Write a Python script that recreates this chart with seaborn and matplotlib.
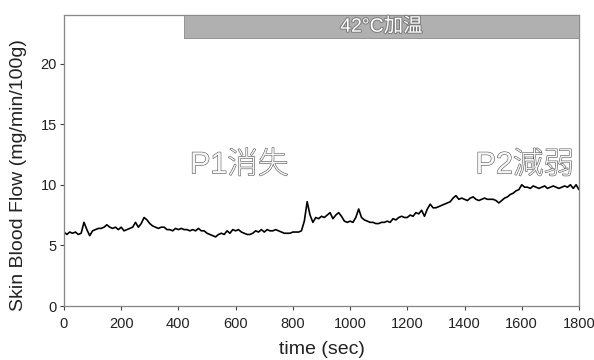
import numpy as np
import pandas as pd
import matplotlib
matplotlib.use("Agg")
import matplotlib.pyplot as plt
import matplotlib.patheffects as pe
import seaborn as sns

# Skin blood flow recorded every 10 s over 30 min
time_sec = list(range(0, 1801, 10))
blood_flow = [
    6.1, 5.9, 6.1, 6.0, 6.1, 5.9, 6.0, 6.9, 6.3, 5.8, 6.2,
    6.3, 6.4, 6.4, 6.5, 6.7, 6.5, 6.4, 6.5, 6.3, 6.5,
    6.2, 6.3, 6.4, 6.5, 6.9, 6.5, 6.8, 7.3, 7.1, 6.8,
    6.6, 6.5, 6.4, 6.5, 6.5, 6.3, 6.3, 6.2, 6.4, 6.3,
    6.4, 6.3, 6.3, 6.2, 6.3, 6.2, 6.4, 6.2, 6.2, 6.0,
    5.9, 5.8, 5.7, 5.9, 6.0, 5.9, 6.2, 6.0, 6.3, 6.2,
    6.3, 6.1, 6.0, 5.9, 5.9, 6.0, 6.2, 6.1, 6.3, 6.1,
    6.3, 6.2, 6.2, 6.3, 6.2, 6.1, 6.0, 6.0, 6.0, 6.1,
    6.1, 6.1, 6.2, 7.0, 8.6, 7.5, 6.9, 7.3, 7.2, 7.4,
    7.3, 7.5, 7.7, 7.2, 7.5, 7.7, 7.4, 7.0, 6.9, 7.0,
    6.9, 7.3, 8.0, 7.3, 7.1, 7.0, 6.9, 6.9, 6.8, 6.8,
    6.9, 6.9, 7.0, 6.9, 7.2, 7.1, 7.3, 7.4, 7.3, 7.3,
    7.5, 7.4, 7.7, 7.6, 7.9, 7.4, 8.0, 8.4, 8.1, 8.1,
    8.2, 8.3, 8.4, 8.5, 8.6, 8.9, 9.1, 8.8, 8.9, 8.8,
    8.7, 8.9, 9.0, 8.8, 8.7, 8.8, 8.9, 8.8, 8.8, 8.8,
    8.7, 8.5, 8.7, 8.9, 9.0, 9.2, 9.3, 9.5, 9.6, 10.0,
    9.8, 9.8, 9.7, 9.9, 9.8, 9.7, 9.8, 9.9, 9.7, 9.8,
    9.9, 9.8, 9.7, 9.8, 9.9, 9.8, 10.0, 9.7, 10.0, 9.6,
]

x_ticks = [0, 200, 400, 600, 800, 1000, 1200, 1400, 1600, 1800]
y_ticks = [0, 5, 10, 15, 20]

# Heating period (42°C) and phase annotations
heat_start, heat_end = 420, 1800
heat_band = (22.1, 24.0)
heat_label = "42°C加温"
phase_labels = ["P1消失", "P2減弱"]
phase_pos = [(612, 11.6), (1610, 11.6)]

sns.set_theme(style="white")
plt.rcParams["font.family"] = ["Liberation Sans", "Noto Sans CJK JP", "DejaVu Sans"]

df = pd.DataFrame({"time": time_sec, "flow": blood_flow})

fig = plt.figure(figsize=(5.94, 3.60), dpi=100)
ax = fig.add_axes([0.1077, 0.15, 0.867, 0.8083])

sns.lineplot(data=df, x="time", y="flow", ax=ax, color="black", linewidth=1.2)

ax.set_xlim(0, 1800)
ax.set_ylim(0, 24)
ax.set_xticks(x_ticks)
ax.set_yticks(y_ticks)
ax.tick_params(axis="both", direction="out", length=3, width=0.8,
               colors="#444444", labelsize=10.5, labelcolor="#222222",
               bottom=True, left=True)
ax.tick_params(axis="x", pad=5)
ax.tick_params(axis="y", pad=2)
for sp in ax.spines.values():
    sp.set_color("#888888")
    sp.set_linewidth(0.9)
    sp.set_linestyle((0, (1, 0.6)))

ax.set_xlabel("time (sec)", fontsize=14, color="#222222", labelpad=7)
ax.set_ylabel("Skin Blood Flow (mg/min/100g)", fontsize=14, color="#222222")
ax.yaxis.set_label_coords(-0.072, 0.45)

# Heating bar
ax.fill_between([heat_start, heat_end], heat_band[0], heat_band[1],
                color="#b0b0b0", edgecolor="#8a8a8a", linewidth=0.6, zorder=3)
ax.text((heat_start + heat_end) / 2, sum(heat_band) / 2 - 0.05, heat_label,
        ha="center", va="center", fontsize=14, color="white", zorder=4,
        path_effects=[pe.withStroke(linewidth=1.4, foreground="#7a7a7a")])

outline = [pe.withStroke(linewidth=0.8, foreground="#555555")]
for label, (px, py) in zip(phase_labels, phase_pos):
    ax.text(px, py, label, ha="center", va="center", fontsize=22,
            fontweight="light", color="#f6f6f6", path_effects=outline, zorder=4)

fig.savefig("out.png", dpi=100)
